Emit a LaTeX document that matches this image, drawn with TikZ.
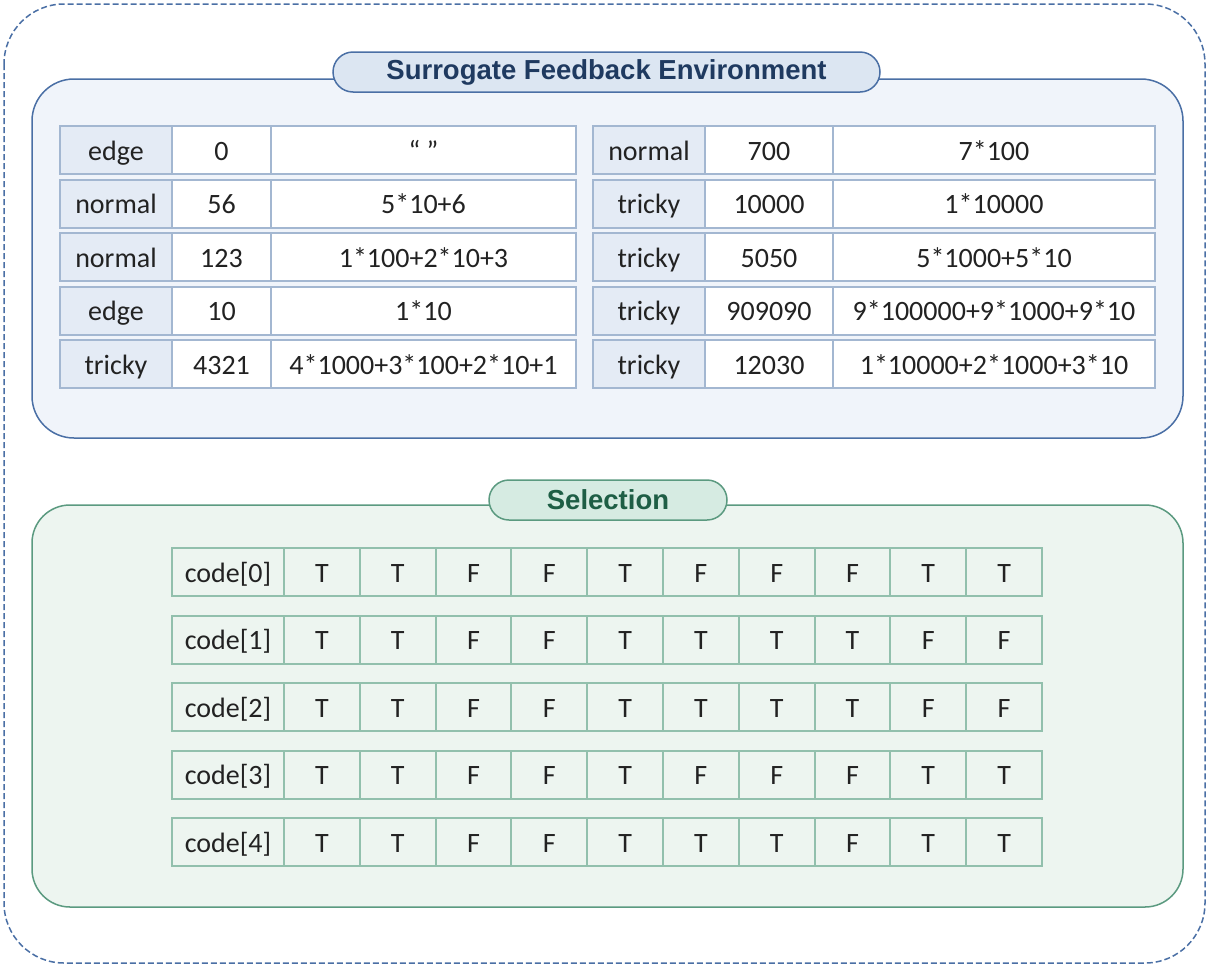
\documentclass[tikz,border=0pt]{standalone}
\usepackage{fontspec}
\setmainfont{Carlito}
\newfontfamily\titlefont{Liberation Sans}
\usetikzlibrary{positioning}
\definecolor{blueline}{HTML}{4A6FA5}
\definecolor{bluefill}{HTML}{F0F4FA}
\definecolor{bluepill}{HTML}{DCE6F2}
\definecolor{bluetext}{HTML}{1F3A60}
\definecolor{bluecell}{HTML}{A3B7D1}
\definecolor{headfill}{HTML}{E4EBF5}
\definecolor{greenline}{HTML}{5B9A80}
\definecolor{greenfill}{HTML}{EDF5F0}
\definecolor{greenpill}{HTML}{D6EBE2}
\definecolor{greentext}{HTML}{1E5E45}
\definecolor{greencell}{HTML}{92C0AD}
\definecolor{txt}{HTML}{222222}
\tikzset{
  outerbox/.style={draw=blueline, line width=1.5pt, dash pattern=on 6pt off 3pt, rounded corners=60pt},
  bluepanel/.style={draw=blueline, fill=bluefill, line width=1.5pt, rounded corners=42pt},
  greenpanel/.style={draw=greenline, fill=greenfill, line width=1.5pt, rounded corners=38pt},
  bluetitle/.style={draw=blueline, fill=bluepill, line width=1.5pt, rounded corners=20pt, text=bluetext,
    font=\titlefont\bfseries\fontsize{27.5}{30}\selectfont, inner sep=0pt},
  greentitle/.style={draw=greenline, fill=greenpill, line width=1.5pt, rounded corners=20pt, text=greentext,
    font=\titlefont\bfseries\fontsize{27.5}{30}\selectfont, inner sep=0pt},
  cellbase/.style={anchor=north west, inner sep=0pt, outer sep=0pt, minimum height=48pt,
    text height=22pt, text depth=2pt,
    text=txt, font=\fontsize{28}{30}\selectfont, line width=2pt},
  headcell/.style={cellbase, draw=bluecell, fill=headfill},
  valcell/.style={cellbase, draw=bluecell, fill=white},
  codecell/.style={cellbase, draw=greencell, fill=greenfill},
}
\begin{document}
\begin{tikzpicture}[x=1pt,y=-1pt]
\useasboundingbox (0,0) rectangle (1208,967);
\draw[outerbox] (4,4) rectangle (1205,963);
% blue panel
\draw[bluepanel] (32,79) rectangle (1183,438);
\node[bluetitle, minimum width=547pt, minimum height=40pt] (t1) at (606.5,72) {Surrogate Feedback Environment};
% left table
\foreach \a/\b/\c [count=\i from 0] in {edge/0/“ ”, normal/56/5*10+6, normal/123/1*100+2*10+3, edge/10/1*10, tricky/4321/4*1000+3*100+2*10+1}{
  \node[headcell, minimum width=112pt] (La\i) at (60,{126+\i*53.5}) {\a};
  \node[valcell, minimum width=99pt] (Lb\i) at (172,{126+\i*53.5}) {\b};
  \node[valcell, minimum width=305pt] (Lc\i) at (271,{126+\i*53.5}) {\c};
}
% right table
\foreach \a/\b/\c [count=\i from 0] in {normal/700/7*100, tricky/10000/1*10000, tricky/5050/5*1000+5*10, tricky/909090/9*100000+9*1000+9*10, tricky/12030/1*10000+2*1000+3*10}{
  \node[headcell, minimum width=112pt] (Ra\i) at (593,{126+\i*53.5}) {\a};
  \node[valcell, minimum width=128pt] (Rb\i) at (705,{126+\i*53.5}) {\b};
  \node[valcell, minimum width=322pt] (Rc\i) at (833,{126+\i*53.5}) {\c};
}
% green panel
\draw[greenpanel] (32,505) rectangle (1183,907);
\node[greentitle, minimum width=238pt, minimum height=40pt] (t2) at (608,500) {Selection};
% code table
\foreach \row [count=\i from 0] in {{T,T,F,F,T,F,F,F,T,T},{T,T,F,F,T,T,T,T,F,F},{T,T,F,F,T,T,T,T,F,F},{T,T,F,F,T,F,F,F,T,T},{T,T,F,F,T,T,T,F,T,T}}{
  \node[codecell, minimum width=112pt] (C\i) at (172,{548+\i*67.5}) {code[\i]};
  \foreach \v [count=\j from 0] in \row {
    \node[codecell, minimum width=75.8pt] (C\i-\j) at ({284+\j*75.8},{548+\i*67.5}) {\v};
  }
}
\end{tikzpicture}
\end{document}
